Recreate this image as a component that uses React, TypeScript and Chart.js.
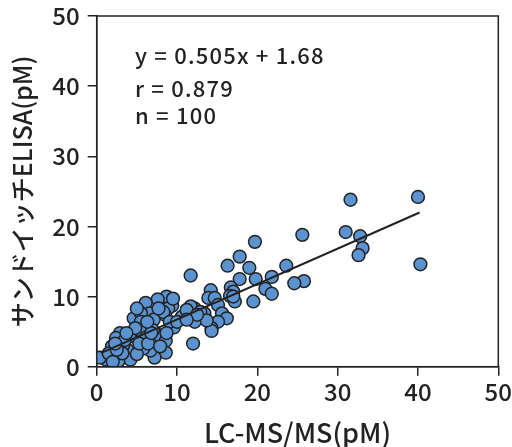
import React, { useEffect, useRef } from "react";
import { Chart, registerables } from "chart.js";

Chart.register(...registerables);

const xValues = [
  40.0, 31.6, 40.3, 31.0, 32.8, 33.1, 32.6, 25.6, 25.8, 24.6,
  23.6, 19.7, 17.8, 16.3, 19.0, 17.8, 19.8, 21.8, 21.0, 21.8,
  19.5, 11.7, 12.0, 16.7, 17.0, 16.6, 17.2, 14.2, 13.9, 14.7,
  15.1, 15.6, 16.2, 15.1, 14.3, 14.3, 13.4, 12.2, 11.7, 12.9,
  12.2, 10.6, 9.6, 9.4, 8.7, 7.6, 6.1, 8.9, 8.5, 6.6,
  7.1, 4.6, 5.5, 5.5, 5.4, 7.8, 8.6, 8.6, 7.2, 6.7,
  5.8, 6.2, 7.0, 4.1, 3.8, 4.2, 5.0, 2.9, 2.4, 1.9,
  2.4, 2.7, 1.2, 0.4, 3.3, 3.5, 9.5, 8.3, 4.8, 3.2,
  1.5, 5.3, 6.4, 7.9, 11.2, 9.1, 7.7, 5.0, 2.0, 3.7,
  10.0, 13.7, 17.0, 12.5, 6.8, 2.5, 6.3, 8.7, 2.3, 11.2,
];
const yValues = [
  24.2, 23.8, 14.6, 19.2, 18.6, 16.9, 15.9, 18.8, 12.2, 11.9,
  14.4, 17.8, 15.7, 14.4, 14.1, 12.5, 12.5, 12.8, 11.1, 10.4,
  9.3, 13.0, 3.3, 11.3, 10.7, 10.1, 9.3, 10.9, 9.8, 9.8,
  8.8, 7.6, 6.9, 6.4, 5.5, 5.1, 7.6, 8.3, 8.6, 7.8,
  6.4, 7.1, 5.6, 8.7, 10.0, 9.6, 9.1, 8.3, 7.4, 7.6,
  6.7, 6.9, 7.6, 6.4, 5.2, 4.5, 3.7, 2.0, 1.3, 2.3,
  2.6, 4.2, 5.2, 4.3, 2.4, 1.0, 1.8, 4.8, 4.1, 2.9,
  1.5, 0.8, 1.0, 1.3, 3.1, 3.8, 9.7, 7.8, 5.5, 1.9,
  1.9, 3.3, 3.3, 2.9, 8.1, 6.4, 8.3, 8.3, 0.7, 4.8,
  6.4, 6.6, 10.0, 7.4, 4.8, 2.4, 6.4, 4.8, 3.3, 6.7,
];
const slope = 0.505;
const intercept = 1.68;
const fitRange = [0.5, 40.2];
const annotationLines = ["y = 0.505x + 1.68", "r = 0.879", "n = 100"];
const tickValues = [0, 10, 20, 30, 40, 50];
const xTitle = "LC-MS/MS(pM)";
const yTitle = "サンドイッチELISA(pM)";

const FONT = "'Noto Sans CJK JP', 'Noto Sans', sans-serif";

export default function App() {
  const ref = useRef<HTMLCanvasElement | null>(null);

  useEffect(() => {
    if (!ref.current) return;
    const points = xValues.map((x, i) => ({ x, y: yValues[i] }));
    const fit = fitRange.map((x) => ({ x, y: slope * x + intercept }));

    const boxPlugin = {
      id: "boxAndText",
      afterDatasetsDraw(chart: any) {
        const { ctx, chartArea } = chart;
        ctx.save();
        ctx.strokeStyle = "#222";
        ctx.lineWidth = 1.5;
        ctx.strokeRect(chartArea.left, chartArea.top, chartArea.right - chartArea.left, chartArea.bottom - chartArea.top);
        ctx.fillStyle = "#222";
        ctx.font = `500 22px ${FONT}`;
        (ctx as any).letterSpacing = "1.2px";
        ctx.textBaseline = "alphabetic";
        ctx.textAlign = "left";
        const baselines = [64, 97, 124];
        annotationLines.forEach((t, i) => ctx.fillText(t, 135, baselines[i]));
        ctx.restore();
      },
    };

    const chart = new Chart(ref.current, {
      type: "scatter",
      data: {
        datasets: [
          {
            type: "line",
            data: fit,
            borderColor: "#222",
            borderWidth: 2,
            pointRadius: 0,
            showLine: true,
            fill: false,
            order: 0,
          } as any,
          {
            data: points,
            backgroundColor: "#5b93d0",
            borderColor: "#222",
            borderWidth: 1.5,
            pointRadius: 6.4,
            order: 1,
          },
        ],
      },
      options: {
        responsive: false,
        animation: false,
        layout: { padding: { top: 16, right: 13.7, left: 0, bottom: 0 } },
        plugins: { legend: { display: false }, tooltip: { enabled: false } },
        scales: {
          x: {
            type: "linear",
            min: 0,
            max: 50,
            afterFit: (s: any) => {
              s.height = 80.3;
              s.paddingLeft = 0;
              s.paddingRight = 0;
            },
            afterBuildTicks: (s: any) => {
              s.ticks = tickValues.map((v) => ({ value: v }));
            },
            border: { display: true, color: "#222", width: 1.5 },
            grid: { drawOnChartArea: false, drawTicks: true, tickLength: 9, color: "#222", lineWidth: 1.5 },
            ticks: { color: "#222", font: { family: FONT, size: 24, weight: 500 as any }, padding: 2, maxRotation: 0 },
            title: {
              display: true,
              text: xTitle,
              color: "#222",
              font: { family: FONT, size: 27, weight: 500 as any, lineHeight: 1 },
              padding: { top: 1, bottom: 1 },
            },
          },
          y: {
            type: "linear",
            min: 0,
            max: 50,
            afterFit: (s: any) => {
              s.width = 96.7;
              s.paddingTop = 0;
              s.paddingBottom = 0;
            },
            afterBuildTicks: (s: any) => {
              s.ticks = tickValues.map((v) => ({ value: v }));
            },
            border: { display: true, color: "#222", width: 1.5 },
            grid: { drawOnChartArea: false, drawTicks: true, tickLength: 9, color: "#222", lineWidth: 1.5 },
            ticks: { color: "#222", font: { family: FONT, size: 24, weight: 500 as any }, padding: 8 },
            title: {
              display: true,
              text: yTitle,
              color: "#222",
              font: { family: FONT, size: 25, weight: 500 as any, lineHeight: 1 },
              padding: { top: 9.5, bottom: 9.5 },
            },
          },
        },
      },
      plugins: [boxPlugin],
    });
    return () => chart.destroy();
  }, []);

  return (
    <div style={{ position: "fixed", left: 0, top: 0, width: 512, height: 447, background: "#fff" }}>
      <canvas ref={ref} width={512} height={447} />
    </div>
  );
}
